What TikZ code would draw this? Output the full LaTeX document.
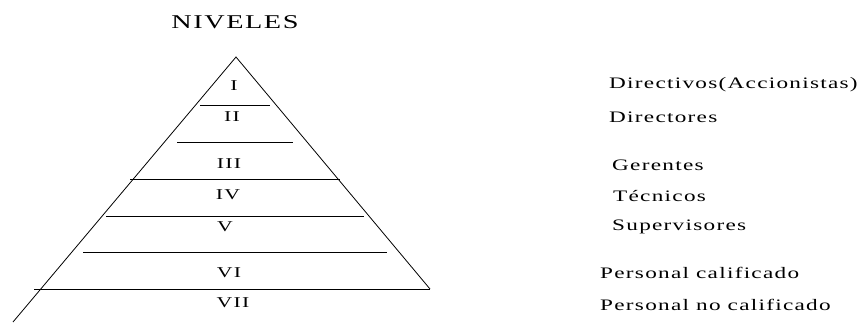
\documentclass[tikz,border=0pt]{standalone}
\usepackage{fontspec}
\setmainfont{Liberation Serif}
\newfontfamily\widefont[FakeStretch=1.45,LetterSpace=8]{Liberation Serif}
\usetikzlibrary{calc}
\tikzset{
  title/.style={font=\widefont\fontsize{19.5}{22}\selectfont,inner sep=0pt},
  lvl/.style={font=\widefont\fontsize{15}{17}\selectfont,inner sep=0pt},    % roman numeral
  role/.style={anchor=west,font=\widefont\fontsize{16}{18}\selectfont,inner sep=0pt},
  side/.style={draw=black,line width=0.8pt},
  sep/.style={draw=black,line width=0.8pt},
}

\begin{document}
\begin{tikzpicture}[x=1pt,y=-1pt]
  \useasboundingbox (0,0) rectangle (861,322);
  \node[title] (niv) at (235,22) {NIVELES};
  % pyramid
  \coordinate (apex) at (236,57);
  \coordinate (bl) at (13,322);
  \coordinate (br) at (430,289);
  \draw[side] (bl) -- (apex) -- (br);
  \draw[sep] (200,105) -- (270,105);
  \draw[sep] (177,142) -- (293,142);
  \draw[sep] (130,179) -- (340,179);
  \draw[sep] (106,216) -- (364,216);
  \draw[sep] (83,252) -- (387,252);
  \draw[sep] (34,289) -- (br);
  % levels
  \node[lvl] (l1) at (234,86) {I};
  \node[lvl] (l2) at (232,117) {II};
  \node[lvl] (l3) at (229,164) {III};
  \node[lvl] (l4) at (228,195) {IV};
  \node[lvl] (l5) at (225,227) {V};
  \node[lvl] (l6) at (229,273) {VI};
  \node[lvl] (l7) at (233,303) {VII};
  % roles
  \node[role] (r1) at (609,85) {Directivos(Accionistas)};
  \node[role] (r2) at (609,117) {Directores};
  \node[role] (r3) at (612,165) {Gerentes};
  \node[role] (r4) at (613,196) {Técnicos};
  \node[role] (r5) at (612,227) {Supervisores};
  \node[role] (r6) at (600,273) {Personal calificado};
  \node[role] (r7) at (600,305) {Personal no calificado};
\end{tikzpicture}
\end{document}
